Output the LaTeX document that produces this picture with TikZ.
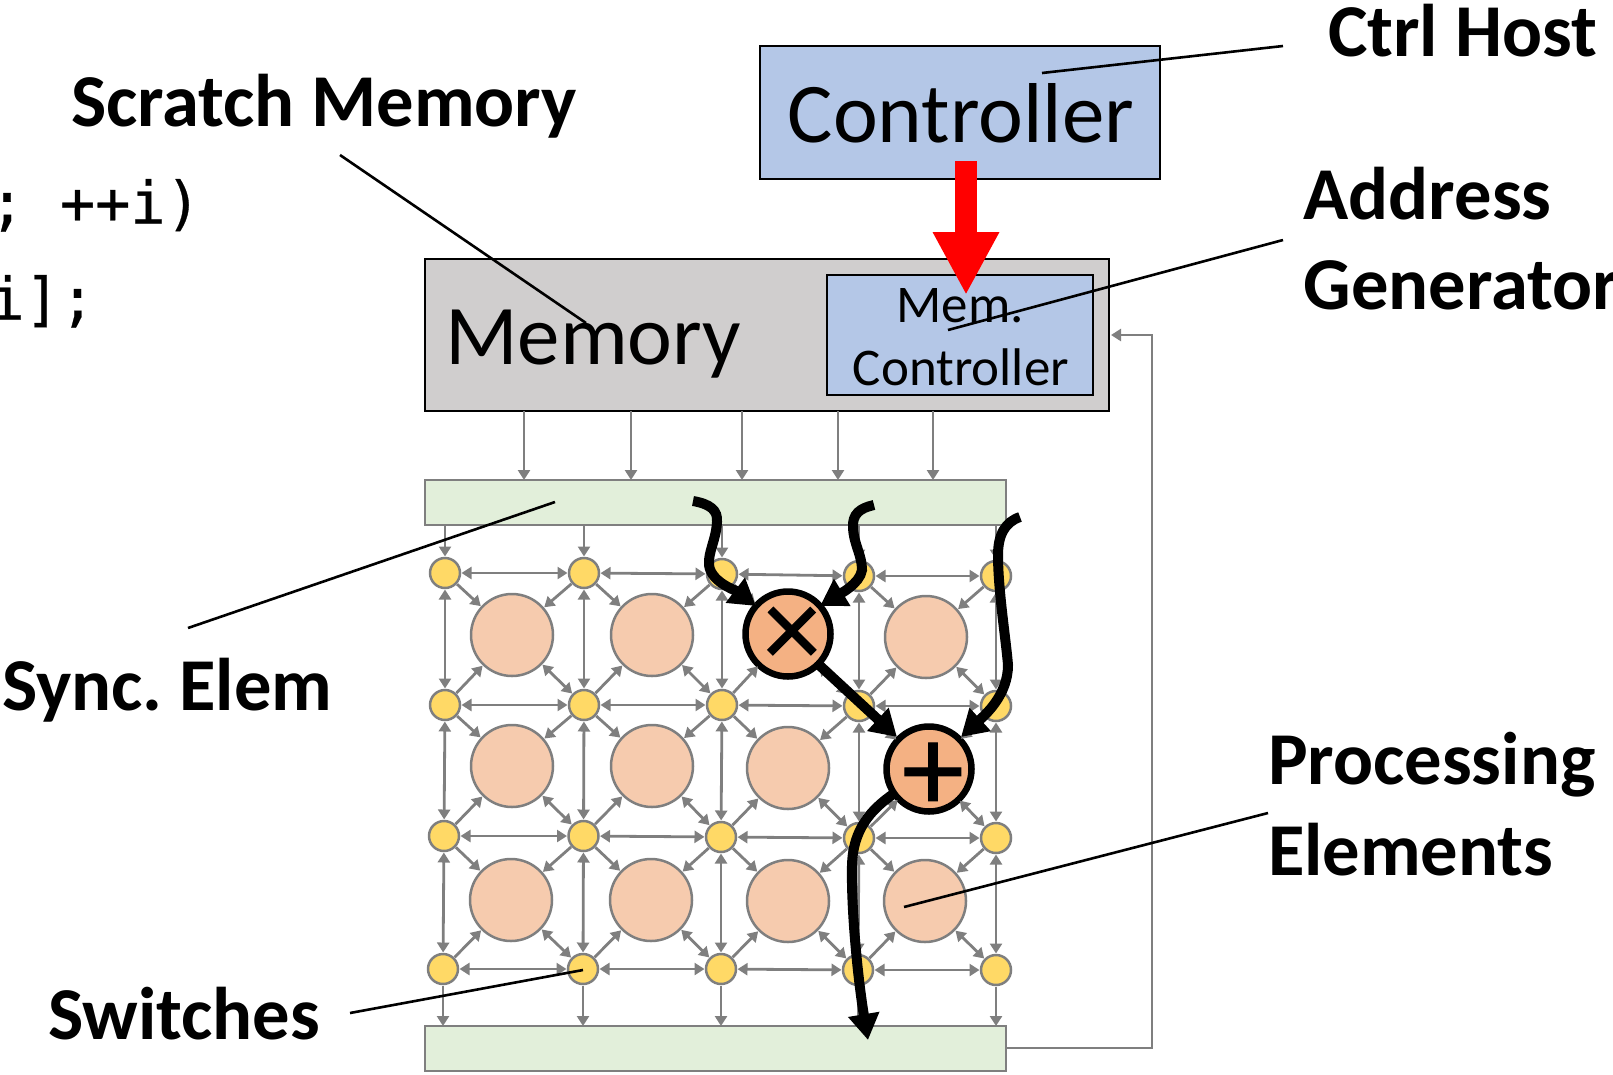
\documentclass[tikz,border=0pt]{standalone}
\usepackage{fontspec}
\setmainfont{Carlito}
\newfontfamily\codefont[FakeBold=0.5]{DejaVu Sans Mono}
\newfontfamily\opfont[FakeBold=0.8]{Carlito}
\usetikzlibrary{arrows.meta,calc}
\definecolor{gline}{HTML}{7F7F7F}
\definecolor{swfill}{HTML}{FFD966}
\definecolor{pefill}{HTML}{F6CBAE}
\definecolor{opfill}{HTML}{F4B183}
\definecolor{syncfill}{HTML}{E2EFDA}
\definecolor{memfill}{HTML}{D0CECE}
\definecolor{ctrlfill}{HTML}{B4C7E7}
\tikzset{
  x=1pt,y=-1pt,
  every node/.style={inner sep=0pt,outer sep=0pt},
  sw/.style={circle,draw=gline,line width=2.5pt,fill=swfill,minimum size=30pt},
  pe/.style={circle,draw=gline,line width=2.5pt,fill=pefill,minimum size=82pt},
  op/.style={circle,draw=black,line width=6.5pt,fill=opfill,minimum size=85pt},
  syncbox/.style={rectangle,draw=gline,line width=2.5pt,fill=syncfill,anchor=north west},
  blackbox/.style={rectangle,draw=black,line width=2.4pt,anchor=north west},
  glink/.style={draw=gline,line width=2.8pt,shorten >=1.5pt,shorten <=1.5pt},
  dbl/.style={glink,{Triangle[length=10pt,width=12pt]}-{Triangle[length=10pt,width=12pt]}},
  sgl/.style={glink,-{Triangle[length=10pt,width=12pt]}},
  flow/.style={draw=black,line width=10pt,-{Triangle[length=26pt,width=30pt]}},
  leader/.style={draw=black,line width=2.6pt},
  lbl/.style={font=\fontsize{74.6}{75}\selectfont\bfseries,anchor=base west},
}
\begin{document}
\frenchspacing
\begin{tikzpicture}
\useasboundingbox (0,0) rectangle (1613,1074);
% boxes
\node[blackbox,fill=memfill,minimum width=684pt,minimum height=152pt] (mem) at (425,259) {};
\node[blackbox,fill=ctrlfill,minimum width=400pt,minimum height=133pt] (ctrl) at (760,46) {};
\node[blackbox,fill=ctrlfill,minimum width=266pt,minimum height=120pt] (mc) at (827,275) {};
\node[syncbox,minimum width=581pt,minimum height=45pt] (top) at (425,480) {};
\node[syncbox,minimum width=581pt,minimum height=45pt] (bot) at (425,1026) {};
% texts in boxes
\node[font=\fontsize{85}{85}\selectfont,anchor=base] (ctrltext) at (961,142.5) {Controller};
\node[font=\fontsize{85}{85}\selectfont,anchor=base west] (memtext) at (445,364.5) {Memory};
\node[font=\fontsize{53}{53}\selectfont,anchor=base] (mctext1) at (960,322) {Mem.};
\node[font=\fontsize{53}{53}\selectfont,anchor=base] (mctext2) at (961,385) {Controller};
% switches
\foreach \n/\x/\y in {11/445/573,12/584/573,13/722/574,14/859/576,15/996/576,
  21/445/705,22/584/705,23/722/705,24/859/706,25/996/706,
  31/444/836,32/583.5/836,33/721/837,34/859/838,35/996/838,
  41/443/969,42/583/969,43/721/969,44/858/970,45/996/970}
  \node[sw] (s\n) at (\x,\y) {};
% processing elements
\foreach \n/\x/\y in {11/512/635,12/652/635,14/926/637,
  21/512/766,22/652/766,23/788/768,
  31/511/900,32/651/900,33/788/901,34/925/901}
  \node[pe] (p\n) at (\x,\y) {};
\node[op] (p13) at (788,634) {};
\node[op] (p24) at (929,769) {};
% grey links
\foreach \r in {1,2,3,4}{
  \foreach \a/\b in {1/2,2/3,3/4,4/5}
    \draw[dbl] (s\r\a) -- (s\r\b);
}
\foreach \c in {1,2,3,4,5}{
  \draw[dbl] (s1\c) -- (s2\c);
  \draw[dbl] (s2\c) -- (s3\c);
  \draw[dbl] (s3\c) -- (s4\c);
}
\foreach \r/\q in {1/2,2/3,3/4}{
  \foreach \c/\d in {1/2,2/3,3/4,4/5}{
    \draw[sgl] (s\r\c) -- (p\r\c);
    \draw[sgl] (s\r\d) -- (p\r\c);
    \draw[sgl] (s\q\c) -- (p\r\c);
    \draw[dbl] (s\q\d) -- (p\r\c);
  }
}
\foreach \c/\x in {1/445,2/584,3/722,4/859,5/996}{
  \coordinate (ti\c) at (\x,525);
  \draw[sgl,shorten <=0pt] (ti\c) -- (s1\c);
}
\foreach \c/\x in {1/443,2/583,3/721,4/858,5/996}{
  \coordinate (bi\c) at (\x,1026);
  \draw[sgl,shorten >=0pt] (s4\c) -- (bi\c);
}
\foreach \c/\x in {1/524,2/631,3/742,4/838,5/933}{
  \coordinate (mo\c) at (\x,411);
  \coordinate (ti\c) at (\x,480);
  \draw[sgl,shorten <=0pt,shorten >=0pt] (mo\c) -- (ti\c);
}
% feedback
\coordinate (fb0) at (1006,1048);
\coordinate (fb1) at (1152,1048);
\coordinate (fb2) at (1152,335);
\coordinate (fb3) at (1111,335);
\draw[sgl,shorten <=0pt,shorten >=0pt] (fb0) -- (fb1) -- (fb2) -- (fb3);
% op glyphs
\node[font=\opfont\fontsize{114}{114}\selectfont] (mulop) at (792,637) {×};
\node[font=\opfont\fontsize{124}{124}\selectfont] (addop) at (933,777) {+};
% flow
\coordinate (f1a) at (693,501);
\coordinate (f2a) at (874,505);
\coordinate (f3a) at (1020,517);
\coordinate (f4t) at (868,1040);
\draw[flow] (f1a) .. controls (710,504) and (718,510) .. (717,522)
  .. controls (716,540) and (708,552) .. (709,565)
  .. controls (711,582) and (735,590) .. ($(p13.135)+(-2,2)$);
\draw[flow] (f2a) .. controls (860,508) and (852,514) .. (853,528)
  .. controls (854,545) and (862,555) .. (862,570)
  .. controls (860,584) and (838,595) .. ($(p13.45)+(2,2)$);
\draw[flow] (f3a) .. controls (1005,522) and (998,535) .. (998,555)
  .. controls (998,590) and (1006,640) .. (1008,665)
  .. controls (1008,695) and (985,715) .. ($(p24.45)+(2,-2)$);
\draw[flow] (p13.-45) -- ($(p24.135)+(-2,-2)$);
\draw[flow] (p24.215) .. controls (870,810) and (853,830) .. (852,865)
  .. controls (851,910) and (858,980) .. (f4t);
% red arrow
\coordinate (ra) at (966,161);
\coordinate (rb) at (966,295);
\draw[red,line width=22pt,-{Triangle[length=63pt,width=62pt]},shorten >=0pt] (ra) -- (rb);
% leaders
\coordinate (l1a) at (1042,73); \coordinate (l1b) at (1283,46);
\coordinate (l2a) at (948,330); \coordinate (l2b) at (1283,240);
\coordinate (l3a) at (586,323); \coordinate (l3b) at (340,155);
\coordinate (l4a) at (555,502); \coordinate (l4b) at (188,628);
\coordinate (l5a) at (904,907); \coordinate (l5b) at (1268,813);
\coordinate (l6a) at (583,970); \coordinate (l6b) at (350,1013);
\foreach \i in {1,...,6} \draw[leader] (l\i a) -- (l\i b);
% labels
\node[lbl] (t1) at (1328,56) {Ctrl Host};
\node[lbl] (t2) at (71,126) {Scratch Memory};
\node[lbl] (t3) at (1303.5,219.5) {Address};
\node[lbl] (t4) at (1303.5,309) {Generator};
\node[lbl] (t5) at (2,710) {Sync. Elem};
\node[lbl] (t6) at (1268,784) {Processing};
\node[lbl] (t7) at (1268,875) {Elements};
\node[lbl] (t8) at (48,1039) {Switches};
\node[font=\codefont\fontsize{58.5}{58}\selectfont,anchor=base west] (c1) at (-10.5,223.5) {; ++i)};
\node[font=\codefont\fontsize{58.5}{58}\selectfont,anchor=base west] (c2) at (-10.5,319.5) {i];};
\end{tikzpicture}
\end{document}
